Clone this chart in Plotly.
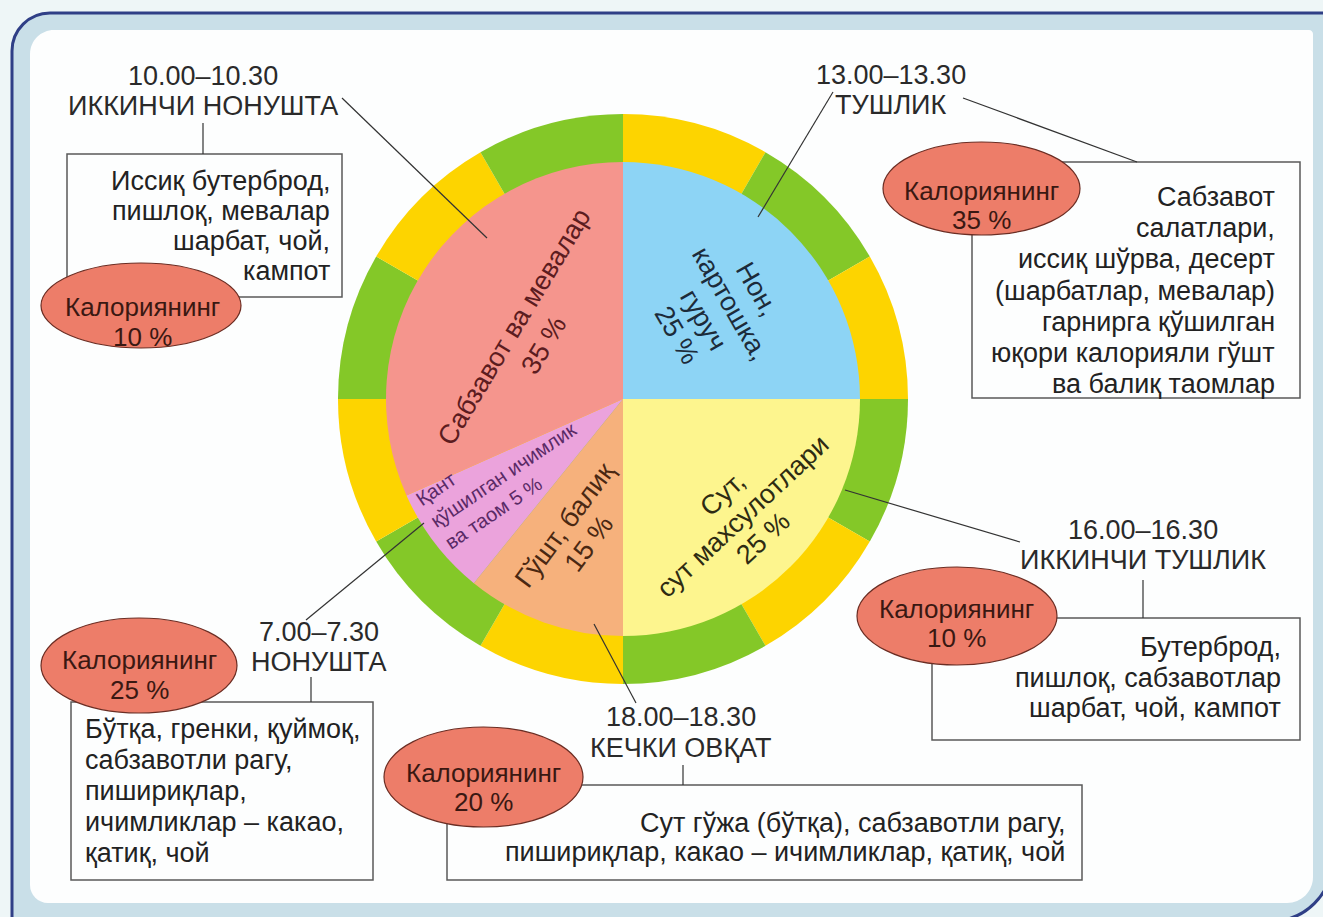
import math
import plotly.graph_objects as go

# ---- data -------------------------------------------------------------
# food groups of the daily ration (clockwise from 12 o'clock)
food_lines = [
    ["Нон,", "картошка,", "гуруч", "25 %"],
    ["Сут,", "сут махсулотлари", "25 %"],
    ["Гўшт, балиқ", "15 %"],
    ["Қант", "қўшилган ичимлик", "ва таом 5 %"],
    ["Сабзавот ва мевалар", "35 %"],
]
food_names = ["Нон, картошка, гуруч", "Сут, сут махсулотлари", "Гўшт, балиқ",
              "Қант қўшилган ичимлик ва таом", "Сабзавот ва мевалар"]
food_percent = [25, 25, 15, 5, 35]
# slice sizes as drawn in the picture (degrees)
slice_deg = [90, 90, 39, 27, 114]
# outer clock ring, twelve equal pieces
ring_deg = [30, 30, 30, 30, 30, 30, 30, 30, 30, 30, 30, 30]

# meals: second breakfast, lunch, second lunch, dinner, breakfast
meal_times = ["10.00–10.30", "13.00–13.30", "16.00–16.30", "18.00–18.30", "7.00–7.30"]
meal_names = ["ИККИНЧИ НОНУШТА", "ТУШЛИК", "ИККИНЧИ ТУШЛИК", "КЕЧКИ ОВҚАТ", "НОНУШТА"]
meal_calories = [10, 35, 10, 20, 25]
meal_menus = [
    ["Иссиқ бутерброд,", "пишлоқ, мевалар", "шарбат, чой,", "кампот"],
    ["Сабзавот", "салатлари,", "иссиқ шўрва, десерт", "(шарбатлар, мевалар)",
     "гарнирга қўшилган", "юқори калорияли гўшт", "ва балиқ таомлар"],
    ["Бутерброд,", "пишлоқ, сабзавотлар", "шарбат, чой, кампот"],
    ["Сут гўжа (бўтқа), сабзавотли рагу,", "пишириқлар, какао – ичимликлар, қатиқ, чой"],
    ["Бўтқа, гренки, қуймоқ,", "сабзавотли рагу,", "пишириқлар,", "ичимликлар – какао,", "қатиқ, чой"],
]

# ---- styles / layout positions (pixels) -------------------------------
W, H = 1323, 917
FONT = "Liberation Sans, Arial, sans-serif"
slice_colors = ["#8dd4f5", "#fdf58e", "#f6b17c", "#eba3dc", "#f5958d"]
slice_text_colors = ["#1c2b3a", "#2e2b12", "#4a2812", "#5a2a66", "#5c1c20"]
ring_colors = ["#fdd400", "#84c828"] * 6
PIE_C = (623, 399)
R_OUT, R_IN = 285, 237

# (cx, cy, angle, line gap, font size)
slice_label_pos = [
    (717, 312, 60, 31, 27),
    (743, 516, -43, 29.5, 27),
    (577, 534, -53.5, 31, 27),
    (503, 475, -34, 25, 20),
    (529, 336, -59, 35, 27),
]

meal_pos = [
    dict(title=(203, 76, 106), box=(67, 154, 342, 297), ell=(41, 263, 241, 348), etext=(142, 307, 337),
         menu=(332, "right", 181, 30), links=[(203, 123, 203, 154), (342, 98, 487, 238)]),
    dict(title=(891, 75, 105), box=(972, 162, 1300, 398), ell=(883, 142, 1080, 235), etext=(981, 191, 220),
         menu=(1277, "right", 197, 31.2), links=[(963, 98, 1137, 162), (833, 92, 758, 217)]),
    dict(title=(1143, 530, 560), box=(932, 618, 1300, 740), ell=(857, 567, 1057, 665), etext=(957, 609, 638),
         menu=(1283, "right", 647, 30.5), links=[(1143, 580, 1143, 618), (845, 490, 1020, 542)]),
    dict(title=(681, 717, 748), box=(447, 785, 1082, 880), ell=(384, 727, 583, 827), etext=(483, 773, 802),
         menu=(1067, "right", 823, 29), links=[(683, 765, 683, 785), (594, 624, 636, 703)]),
    dict(title=(319, 632, 662), box=(71, 702, 373, 880), ell=(41, 618, 237, 713), etext=(139, 660, 690),
         menu=(83, "left", 729, 31), links=[(311, 677, 311, 702), (424, 523, 306, 620)]),
]


def px(x):
    return x / W


def py(y):
    return 1 - y / H


def dom(cx, cy, r):
    return dict(x=[px(cx - r), px(cx + r)], y=[py(cy + r), py(cy - r)])


def rrect(x0, y0, x1, y1, rtl, rtr, rbr, rbl):
    k = 0.5523
    pts = [
        ("M", [(x0 + rtl, y0)]),
        ("L", [(x1 - rtr, y0)]),
        ("C", [(x1 - rtr + k * rtr, y0), (x1, y0 + rtr - k * rtr), (x1, y0 + rtr)]),
        ("L", [(x1, y1 - rbr)]),
        ("C", [(x1, y1 - rbr + k * rbr), (x1 - rbr + k * rbr, y1), (x1 - rbr, y1)]),
        ("L", [(x0 + rbl, y1)]),
        ("C", [(x0 + rbl - k * rbl, y1), (x0, y1 - rbl + k * rbl), (x0, y1 - rbl)]),
        ("L", [(x0, y0 + rtl)]),
        ("C", [(x0, y0 + rtl - k * rtl), (x0 + rtl - k * rtl, y0), (x0 + rtl, y0)]),
    ]
    s = ""
    for cmd, ps in pts:
        s += cmd + " " + " ".join("%.5f,%.5f" % (px(a), py(b)) for a, b in ps) + " "
    return s + "Z"


fig = go.Figure()

# outer ring and the food pie
fig.add_trace(go.Pie(values=ring_deg, marker=dict(colors=ring_colors, line=dict(width=0)),
                     sort=False, direction="clockwise", rotation=0, textinfo="none",
                     hoverinfo="skip", showlegend=False, domain=dom(*PIE_C, R_OUT)))
fig.add_trace(go.Pie(values=slice_deg, labels=food_names, customdata=food_percent,
                     marker=dict(colors=slice_colors, line=dict(width=0)),
                     sort=False, direction="clockwise", rotation=0, textinfo="none",
                     hovertemplate="%{label}: %{customdata} %<extra></extra>",
                     showlegend=False, domain=dom(*PIE_C, R_IN)))

shapes = []
# frame
shapes.append(dict(type="path", path=rrect(12, 13, 1332, 921, 38, 0, 60, 0), xref="paper", yref="paper",
                   fillcolor="#c9dfe8", line=dict(color="#2f3f86", width=3), layer="below"))
shapes.append(dict(type="path", path=rrect(30, 30, 1313, 903, 24, 4, 26, 18), xref="paper", yref="paper",
                   fillcolor="#fdfefe", line=dict(width=0), layer="below"))

for mp in meal_pos:
    x0, y0, x1, y1 = mp["box"]
    shapes.append(dict(type="rect", xref="paper", yref="paper", x0=px(x0), x1=px(x1), y0=py(y1), y1=py(y0),
                       line=dict(color="#5a5a5a", width=1.5), fillcolor="rgba(0,0,0,0)", layer="above"))
    for a, b, c, d in mp["links"]:
        shapes.append(dict(type="line", xref="paper", yref="paper", x0=px(a), y0=py(b), x1=px(c), y1=py(d),
                           line=dict(color="#333333", width=1.2), layer="above"))
    e0, f0, e1, f1 = mp["ell"]
    shapes.append(dict(type="circle", xref="paper", yref="paper", x0=px(e0), x1=px(e1), y0=py(f1), y1=py(f0),
                       fillcolor="#ed7d69", line=dict(color="#6b2d23", width=1.2), layer="above"))


def note(x, y, s, size=27, color="#2a2a2a", anchor="center", angle=0, align="center"):
    fig.add_annotation(x=px(x), y=py(y), xref="paper", yref="paper", text=s, showarrow=False,
                       xanchor=anchor, yanchor="middle", textangle=angle, align=align,
                       font=dict(family=FONT, size=size, color=color))


for i, mp in enumerate(meal_pos):
    tx, ty1, ty2 = mp["title"]
    note(tx, ty1, meal_times[i])
    note(tx, ty2, meal_names[i])
    ex, ey1, ey2 = mp["etext"]
    note(ex, ey1, "Калориянинг", size=26, color="#3a1812")
    note(ex, ey2, "%d %%" % meal_calories[i], size=26, color="#3a1812")
    mx, anc, my, gap = mp["menu"]
    for j, line in enumerate(meal_menus[i]):
        note(mx, my + j * gap, line, color="#222222", anchor=anc)

# slice labels, rotated
for i, lines in enumerate(food_lines):
    cx, cy, ang, gap, size = slice_label_pos[i]
    if size < 27:
        note(cx, cy, "<br>".join(lines), size=size, color=slice_text_colors[i], angle=ang, align="left")
        continue
    t = math.radians(ang)
    n = len(lines)
    for j, line in enumerate(lines):
        k = j - (n - 1) / 2
        note(cx - math.sin(t) * gap * k, cy + math.cos(t) * gap * k, line, size=size,
             color=slice_text_colors[i], angle=ang)

fig.update_layout(
    width=W, height=H, margin=dict(l=0, r=0, t=0, b=0),
    paper_bgcolor="#eef6f7", plot_bgcolor="rgba(0,0,0,0)",
    shapes=shapes, showlegend=False,
    font=dict(family=FONT),
)

# page body margin would shift the figure by 8px
fig.write_html("out.html", config={"displayModeBar": False},
               post_script="document.body.style.margin='0';")
